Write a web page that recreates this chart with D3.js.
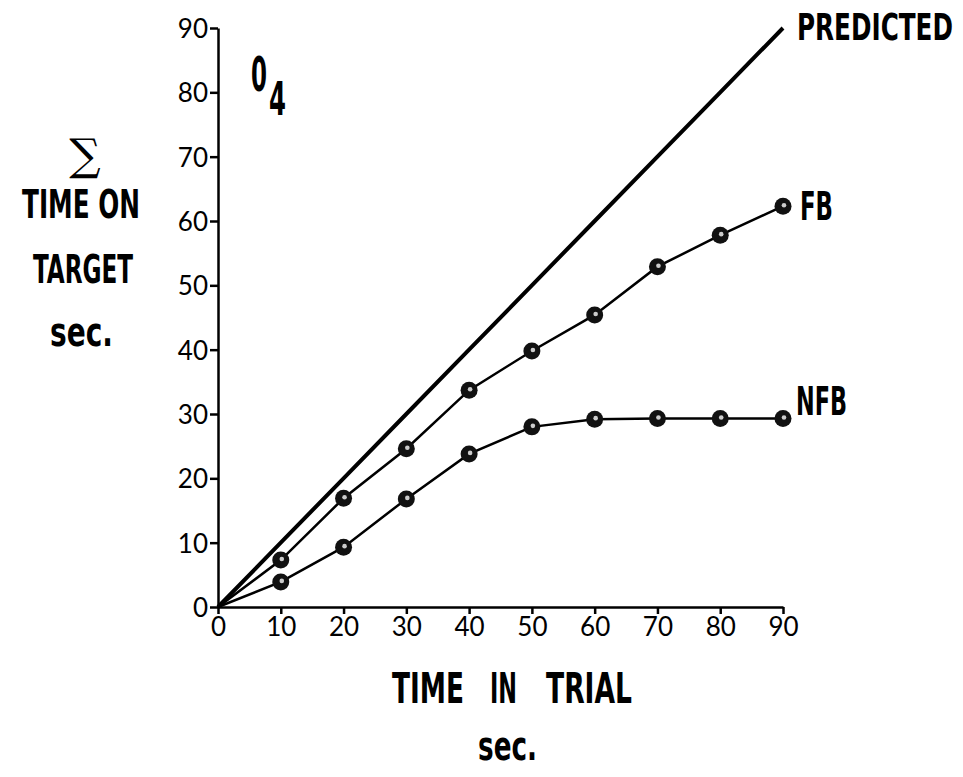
<!DOCTYPE html>
<html>
<head>
<meta charset="utf-8">
<script src="https://cdn.jsdelivr.net/npm/d3@7"></script>
<style>
  body { margin: 0; background: #fff; }
  .lbl { font-family: "Liberation Sans Narrow", "DejaVu Sans Condensed", sans-serif; font-weight: bold; fill: #000; }
</style>
</head>
<body>
<div id="chart"></div>
<script>
"use strict";

// time in trial (sec.)
const trialTimes = [0, 10, 20, 30, 40, 50, 60, 70, 80, 90];
// cumulative time on target (sec.)
const predicted = [0, 10, 20, 30, 40, 50, 60, 70, 80, 90];
const fb = [0, 7.3, 16.9, 24.6, 33.7, 39.8, 45.4, 52.9, 57.8, 62.3];
const nfb = [0, 3.9, 9.3, 16.8, 23.8, 28.0, 29.2, 29.3, 29.3, 29.3];
const xTicks = [0, 10, 20, 30, 40, 50, 60, 70, 80, 90];
const yTicks = [0, 10, 20, 30, 40, 50, 60, 70, 80, 90];

const width = 963, height = 777;
const x0 = 218, x1 = 783, y0 = 607, y1 = 28;

const svg = d3.select("#chart").append("svg").attr("width", width).attr("height", height);

const x = d3.scaleLinear().domain([0, 90]).range([x0, x1]);
const y = d3.scaleLinear().domain([0, 90]).range([y0, y1]);

// axes
const yAxis = svg.append("g").attr("transform", "translate(" + x0 + ",0)")
  .call(d3.axisLeft(y).tickValues(yTicks).tickSize(8).tickPadding(2).tickSizeOuter(0));
const xAxis = svg.append("g").attr("transform", "translate(0," + y0 + ")")
  .call(d3.axisBottom(x).tickValues(xTicks).tickSize(7).tickPadding(3).tickSizeOuter(0));
[xAxis, yAxis].forEach(function(a) {
  a.attr("font-size", 26).attr("font-family", "Lato, 'DejaVu Sans', sans-serif");
  a.select(".domain").attr("stroke", "#000").attr("stroke-width", 2.5);
  a.selectAll(".tick line").attr("stroke", "#000").attr("stroke-width", 2.5);
  a.selectAll(".tick text").attr("fill", "#000");
});
yAxis.selectAll(".tick text").attr("dy", "0.36em");
xAxis.selectAll(".tick text").attr("dy", "0.72em");

const line = d3.line().x(function(d) { return x(d[0]); }).y(function(d) { return y(d[1]); });

// predicted line
svg.append("path").datum(d3.zip(trialTimes, predicted)).attr("d", line)
  .attr("fill", "none").attr("stroke", "#000").attr("stroke-width", 4);

// FB and NFB series with markers
[fb, nfb].forEach(function(series) {
  const pts = d3.zip(trialTimes, series);
  svg.append("path").datum(pts).attr("d", line)
    .attr("fill", "none").attr("stroke", "#000").attr("stroke-width", 2.5);
  const g = svg.append("g").selectAll("g").data(pts.slice(1)).enter().append("g");
  g.append("circle").attr("cx", function(d) { return x(d[0]); }).attr("cy", function(d) { return y(d[1]); })
    .attr("r", 8.5).attr("fill", "#111");
  g.append("circle").attr("cx", function(d) { return x(d[0]) + 1; }).attr("cy", function(d) { return y(d[1]) - 1; })
    .attr("r", 2.3).attr("fill", "#ccc");
});

// condensed label squeezed to a given width
function label(txt, lx, ly, size, w) {
  const t = svg.append("text").attr("class", "lbl").attr("font-size", size).text(txt);
  const len = t.node().getComputedTextLength();
  t.attr("transform", "translate(" + lx + "," + ly + ") scale(" + (w / len) + ",1)");
  return t;
}

// series labels
label("PREDICTED", 797, 40, 37, 156);
label("FB", 800, 220, 39, 33);
label("NFB", 796, 415, 39, 51);

// panel label
label("0", 251, 91, 48, 16);
label("4", 269, 115, 46, 17);

// y axis title
svg.append("text").attr("x", 85).attr("y", 170).attr("text-anchor", "middle")
  .attr("font-family", "DejaVu Serif, serif").attr("font-size", 44).attr("fill", "#000").text("\u2211");
label("TIME ON", 22, 218, 39, 118);
label("TARGET", 33, 283, 39, 100);
label("sec.", 50, 346, 40, 63);

// x axis title
label("TIME", 392, 703, 43, 72);
label("IN", 490, 703, 43, 27);
label("TRIAL", 546, 703, 43, 86);
label("sec.", 478, 760, 40, 59);
</script>
</body>
</html>
